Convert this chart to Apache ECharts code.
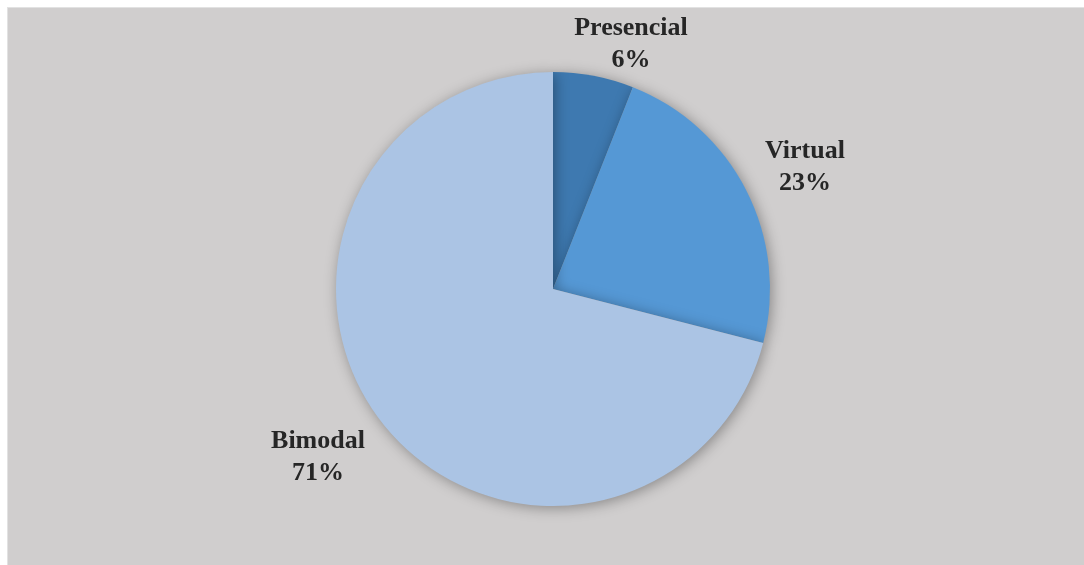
<!DOCTYPE html>
<html>
<head>
<meta charset="utf-8">
<script src="https://cdn.jsdelivr.net/npm/echarts@6/dist/echarts.min.js"></script>
<style>
  html, body { margin: 0; padding: 0; background: #ffffff; }
  #frame {
    position: absolute; left: 7px; top: 7px; width: 1077px; height: 558px;
    background: #d0cece; border-left: 1px solid #e2e2e2; border-top: 1px solid #e2e2e2;
    box-sizing: border-box;
  }
  #chart { position: absolute; left: 0; top: 0; width: 1084px; height: 565px; }
</style>
</head>
<body>
<div id="frame"></div>
<div id="chart"></div>
<script>
// Modalidad de estudio
const categories = ['Presencial', 'Virtual', 'Bimodal'];
const values = [6, 23, 71];
const colors = ['#3e79b0', '#5598d5', '#abc4e4'];

// label anchor points (centre of each two-line label)
const labelSpots = [[631, 44], [805, 167], [318, 457]];

const chart = echarts.init(document.getElementById('chart'), null, { renderer: 'canvas' });
chart.setOption({
  backgroundColor: 'transparent',
  animation: false,
  series: [{
    type: 'pie',
    center: [553, 289],
    radius: [0, 217],
    startAngle: 90,
    clockwise: true,
    data: categories.map((c, i) => ({ name: c, value: values[i], itemStyle: { color: colors[i] } })),
    itemStyle: {
      borderWidth: 0,
      shadowBlur: 14,
      shadowColor: 'rgba(0,0,0,0.35)',
      shadowOffsetX: 2,
      shadowOffsetY: 2
    },
    label: {
      show: true,
      position: 'outside',
      formatter: p => p.name + '\n' + p.value + '%',
      fontFamily: '"Liberation Serif", "Times New Roman", serif',
      fontWeight: 'bold',
      fontSize: 26,
      lineHeight: 32,
      color: '#262626',
      align: 'center'
    },
    labelLine: { show: false },
    labelLayout: p => ({
      x: labelSpots[p.dataIndex][0],
      y: labelSpots[p.dataIndex][1],
      align: 'center',
      verticalAlign: 'middle'
    })
  }]
});
</script>
</body>
</html>
